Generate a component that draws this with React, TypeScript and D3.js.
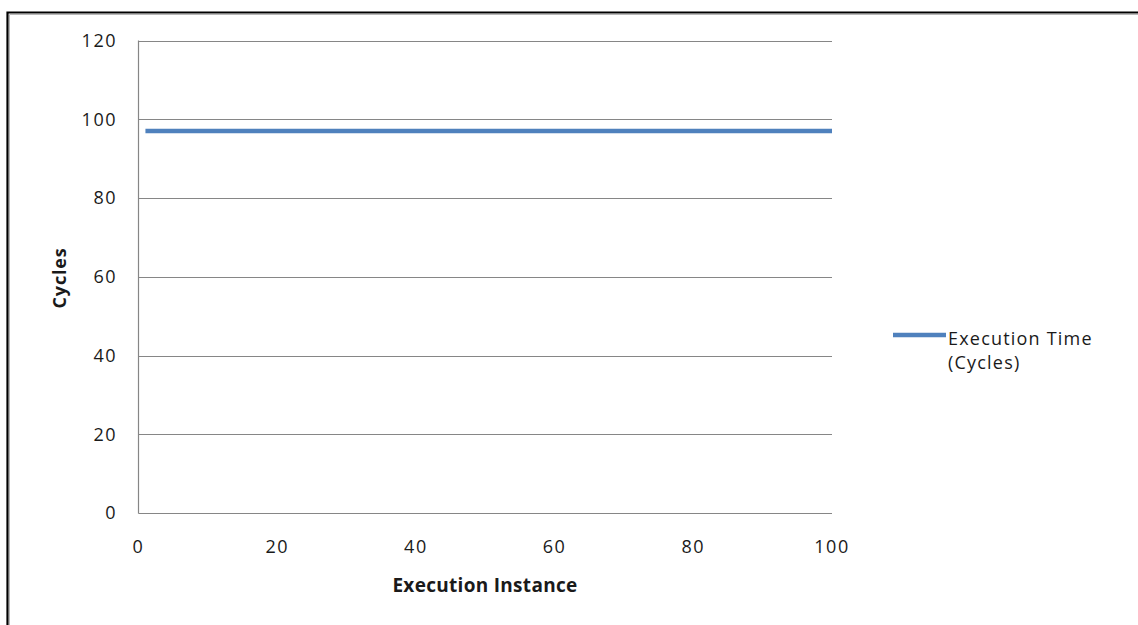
import React from "react";
import * as d3 from "d3";

// Execution instances 1..100 and the measured cycle count for each run
const instances: number[] = [
  1, 2, 3, 4, 5, 6, 7, 8, 9, 10, 11, 12, 13, 14, 15, 16, 17, 18, 19, 20,
  21, 22, 23, 24, 25, 26, 27, 28, 29, 30, 31, 32, 33, 34, 35, 36, 37, 38, 39, 40,
  41, 42, 43, 44, 45, 46, 47, 48, 49, 50, 51, 52, 53, 54, 55, 56, 57, 58, 59, 60,
  61, 62, 63, 64, 65, 66, 67, 68, 69, 70, 71, 72, 73, 74, 75, 76, 77, 78, 79, 80,
  81, 82, 83, 84, 85, 86, 87, 88, 89, 90, 91, 92, 93, 94, 95, 96, 97, 98, 99, 100,
];
const cycles: number[] = [
  97, 97, 97, 97, 97, 97, 97, 97, 97, 97, 97, 97, 97, 97, 97, 97, 97, 97, 97, 97,
  97, 97, 97, 97, 97, 97, 97, 97, 97, 97, 97, 97, 97, 97, 97, 97, 97, 97, 97, 97,
  97, 97, 97, 97, 97, 97, 97, 97, 97, 97, 97, 97, 97, 97, 97, 97, 97, 97, 97, 97,
  97, 97, 97, 97, 97, 97, 97, 97, 97, 97, 97, 97, 97, 97, 97, 97, 97, 97, 97, 97,
  97, 97, 97, 97, 97, 97, 97, 97, 97, 97, 97, 97, 97, 97, 97, 97, 97, 97, 97, 97,
];
const xTicks: number[] = [0, 20, 40, 60, 80, 100];
const yTicks: number[] = [0, 20, 40, 60, 80, 100, 120];
const seriesName = ["Execution Time", "(Cycles)"];
const xTitle = "Execution Instance";
const yTitle = "Cycles";

const W = 1138;
const H = 625;
const FONT = "'Open Sans', 'DejaVu Sans', sans-serif";
const LINE_COLOR = "#4F81BD";
const GRID_COLOR = "#868686";
const TEXT_COLOR = "#1a1a1a";

export default function App() {
  const x = d3.scaleLinear().domain([0, 100]).range([138.5, 832]);
  const y = d3.scaleLinear().domain([0, 120]).range([513, 40.5]);

  const points = instances.map((inst, i) => [inst, cycles[i]] as [number, number]);
  const line = d3
    .line<[number, number]>()
    .x((d) => x(d[0]))
    .y((d) => y(d[1]));

  const [x0, x1] = x.range();
  const [yBottom, yTop] = y.range();

  return (
    <svg
      width={W}
      height={H}
      viewBox={`0 0 ${W} ${H}`}
      style={{ position: "absolute", left: 0, top: 0, background: "#fff" }}
    >
      {/* outer frame (top and left edges visible) */}
      <path d={`M7.5,${H + 5} V12.5 H${W + 5}`} fill="none" stroke="#000" strokeWidth={2.2} />
      <path d={`M9.5,${H + 5} V14.5 H${W + 5}`} fill="none" stroke="#b8b8b8" strokeWidth={1} />

      {/* horizontal gridlines */}
      {yTicks.map((t) => (
        <line
          key={`g${t}`}
          x1={x0}
          x2={x1}
          y1={Math.round(y(t)) + 0.5}
          y2={Math.round(y(t)) + 0.5}
          stroke={GRID_COLOR}
          strokeWidth={1.2}
        />
      ))}
      {/* vertical axis line */}
      <line x1={x0} x2={x0} y1={yTop} y2={yBottom + 0.5} stroke={GRID_COLOR} strokeWidth={1.2} />

      {/* y tick labels */}
      {yTicks.map((t) => (
        <text
          key={`yl${t}`}
          x={117}
          y={y(t)}
          dy="0.36em"
          textAnchor="end"
          fontFamily={FONT}
          fontSize={18}
          letterSpacing={1.5}
          fill={TEXT_COLOR}
        >
          {t}
        </text>
      ))}

      {/* x tick labels */}
      {xTicks.map((t) => (
        <text
          key={`xl${t}`}
          x={x(t)}
          y={547}
          dy="0.36em"
          textAnchor="middle"
          fontFamily={FONT}
          fontSize={18}
          letterSpacing={1.5}
          fill={TEXT_COLOR}
        >
          {t}
        </text>
      ))}

      {/* series */}
      <path d={line(points) ?? ""} fill="none" stroke={LINE_COLOR} strokeWidth={4.5} />

      {/* axis titles */}
      <text
        x={485}
        y={592}
        textAnchor="middle"
        fontFamily={FONT}
        fontSize={19}
        fontWeight="bold"
        letterSpacing={0.3}
        fill={TEXT_COLOR}
      >
        {xTitle}
      </text>
      <text
        transform={`translate(60,278) rotate(-90)`}
        dy="0.36em"
        textAnchor="middle"
        fontFamily={FONT}
        fontSize={18}
        fontWeight="bold"
        letterSpacing={0.8}
        fill={TEXT_COLOR}
      >
        {yTitle}
      </text>

      {/* legend */}
      <line x1={893} x2={946} y1={335} y2={335} stroke={LINE_COLOR} strokeWidth={4.5} />
      {seriesName.map((s, i) => (
        <text
          key={s}
          x={948}
          y={345 + i * 24}
          fontFamily={FONT}
          fontSize={18}
          letterSpacing={1.2}
          fill={TEXT_COLOR}
        >
          {s}
        </text>
      ))}
    </svg>
  );
}
